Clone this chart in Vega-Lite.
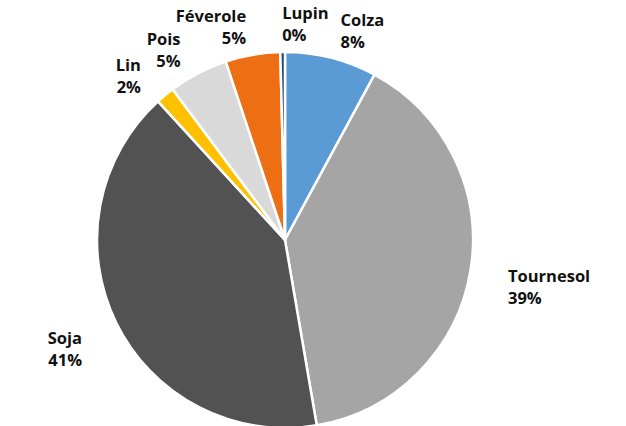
{
  "$schema": "https://vega.github.io/schema/vega-lite/v6.json",
  "width": 570,
  "height": 372,
  "autosize": "none",
  "padding": {"left": 0, "top": 54, "right": 56, "bottom": 0},
  "background": "white",
  "view": {"stroke": null},
  "data": {
    "values": [
      {"idx": 1, "culture": "Colza", "part": 7.9},
      {"idx": 2, "culture": "Tournesol", "part": 39.4},
      {"idx": 3, "culture": "Soja", "part": 40.9},
      {"idx": 4, "culture": "Lin", "part": 1.6},
      {"idx": 5, "culture": "Pois", "part": 5.1},
      {"idx": 6, "culture": "Féverole", "part": 4.7},
      {"idx": 7, "culture": "Lupin", "part": 0.4}
    ]
  },
  "transform": [
    {"calculate": "[datum.culture, format(datum.part / 100, '.0%')]", "as": "label"}
  ],
  "encoding": {
    "theta": {"field": "part", "type": "quantitative", "stack": true},
    "order": {"field": "idx", "type": "quantitative"}
  },
  "layer": [
    {
      "mark": {"type": "arc", "outerRadius": 188, "stroke": "white", "strokeWidth": 2.5},
      "encoding": {
        "color": {
          "field": "culture",
          "type": "nominal",
          "legend": null,
          "scale": {
            "domain": ["Colza", "Tournesol", "Soja", "Lin", "Pois", "Féverole", "Lupin"],
            "range": ["#5B9BD5", "#A5A5A5", "#525252", "#FFC000", "#D9D9D9", "#EE6E14", "#264478"]
          }
        }
      }
    },
    {
      "mark": {"type": "text", "radius": 226, "align": "left", "baseline": "middle", "font": "Open Sans", "fontWeight": "bold", "fontSize": 16.5, "lineHeight": 22, "color": "#111111"},
      "encoding": {
        "text": {
          "condition": {"test": "indexof(['Colza','Tournesol','Lupin'], datum.culture) >= 0", "field": "label"},
          "value": ""
        }
      }
    },
    {
      "mark": {"type": "text", "radius": 226, "align": "right", "baseline": "middle", "font": "Open Sans", "fontWeight": "bold", "fontSize": 16.5, "lineHeight": 22, "color": "#111111"},
      "encoding": {
        "text": {
          "condition": {"test": "indexof(['Soja','Lin','Pois','Féverole'], datum.culture) >= 0", "field": "label"},
          "value": ""
        }
      }
    }
  ]
}
